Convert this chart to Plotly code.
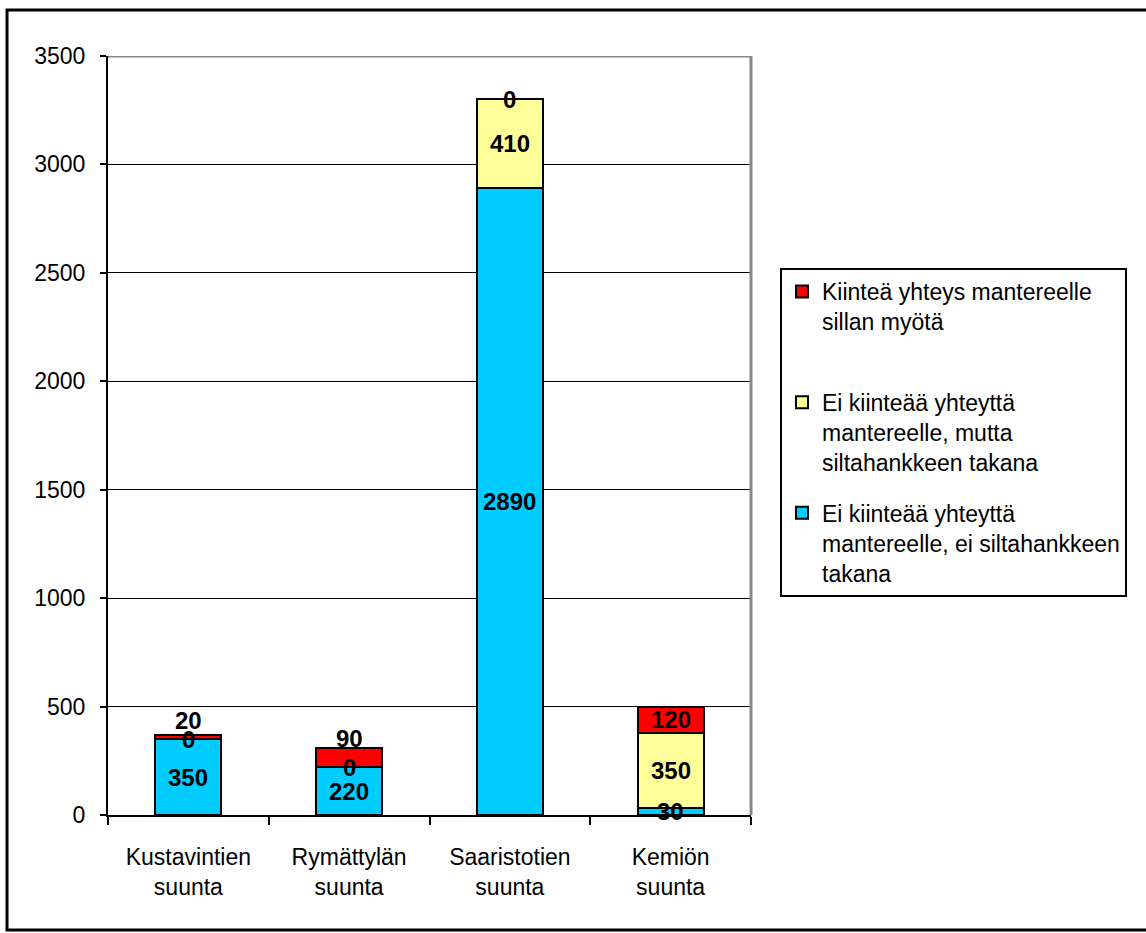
import plotly.graph_objects as go

categories = ["Kustavintien<br>suunta", "Rymättylän<br>suunta", "Saaristotien<br>suunta", "Kemiön<br>suunta"]
cat_keys = ["Kustavintien", "Rymättylän", "Saaristotien", "Kemiön"]

blue_name = "Ei kiinteää yhteyttä<br>mantereelle, ei siltahankkeen<br>takana"
yellow_name = "Ei kiinteää yhteyttä<br>mantereelle, mutta<br>siltahankkeen takana"
red_name = "Kiinteä yhteys mantereelle<br>sillan myötä<br> "

blue_vals = [350, 220, 2890, 30]
yellow_vals = [0, 0, 410, 350]
red_vals = [20, 90, 0, 120]

y_ticks = [0, 500, 1000, 1500, 2000, 2500, 3000, 3500]

FONT = "Liberation Sans, Arial, sans-serif"

series = [
    (blue_name, blue_vals, "#00CCFF", 3),
    (yellow_name, yellow_vals, "#FFFF99", 2),
    (red_name, red_vals, "#FF0000", 1),
]

fig = go.Figure()
for name, vals, color, rank in series:
    fig.add_trace(go.Bar(
        x=cat_keys, y=vals, name=name,
        marker=dict(color=color, line=dict(color="black", width=2)),
        width=0.41, legendrank=rank, legendgroup=name,
    ))

# data labels centered in each segment
label_shift = {(2, 0): 16, (2, 1): 19}
annotations = []
for j in range(len(cat_keys)):
    base = 0
    for si, (name, vals, color, rank) in enumerate(series):
        v = vals[j]
        annotations.append(dict(
            x=cat_keys[j], y=base + v / 2, xref="x", yref="y",
            text="<b>%d</b>" % v, showarrow=False,
            font=dict(family=FONT, size=24, color="black"),
            yshift=label_shift.get((si, j), 0),
        ))
        base += v

shapes = [
    dict(type="line", xref="paper", yref="y", x0=0, x1=1, y0=3500, y1=3500,
         line=dict(color="#888888", width=3)),
    dict(type="line", xref="paper", yref="paper", x0=1, x1=1, y0=0, y1=1,
         line=dict(color="#888888", width=3)),
    dict(type="rect", xref="paper", yref="paper",
         x0=(7 - 108) / 643, x1=(1150 - 108) / 643,
         y0=(815 - 930) / 759, y1=(815 - 10) / 759,
         line=dict(color="black", width=3), layer="below"),
]

fig.update_layout(
    width=1146, height=933,
    margin=dict(l=108, r=395, t=56, b=118),
    barmode="stack",
    paper_bgcolor="white", plot_bgcolor="white",
    font=dict(family=FONT, size=23, color="black"),
    showlegend=True,
    legend=dict(
        x=(780 - 108) / 643, y=(815 - 268) / 759, xanchor="left", yanchor="top",
        bordercolor="black", borderwidth=2, bgcolor="white",
        font=dict(family=FONT, size=23, color="black"),
        valign="top", traceorder="grouped", tracegroupgap=18,
        itemsizing="constant",
    ),
    annotations=annotations,
    shapes=shapes,
)
fig.update_xaxes(
    type="category", tickmode="array", tickvals=cat_keys, ticktext=categories,
    showline=True, linecolor="black", linewidth=2,
    ticks="outside", tickson="boundaries", ticklen=8, tickwidth=2, tickcolor="black",
    showgrid=False, ticklabelstandoff=20,
    tickfont=dict(family=FONT, size=23, color="black"),
)
fig.update_yaxes(
    range=[0, 3500], tickvals=y_ticks,
    showline=True, linecolor="black", linewidth=2,
    ticks="outside", ticklen=6, tickwidth=2, tickcolor="black",
    showgrid=True, gridcolor="black", gridwidth=1, zeroline=False,
    ticklabelstandoff=10,
    tickfont=dict(family=FONT, size=23, color="black"),
)

fig.write_html("out.html")
